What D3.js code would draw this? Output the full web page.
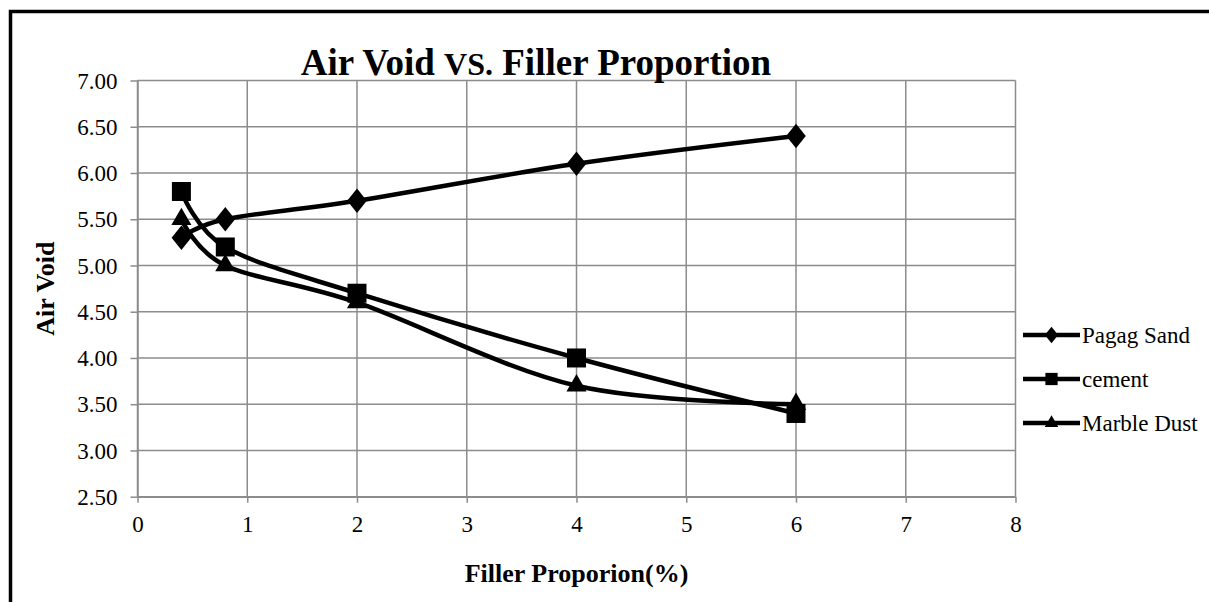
<!DOCTYPE html>
<html>
<head>
<meta charset="utf-8">
<script src="https://cdn.jsdelivr.net/npm/d3@7"></script>
<style>
  html, body { margin: 0; padding: 0; background: #fff; }
  svg { display: block; }
  text { font-family: "Liberation Serif", "Times New Roman", serif; fill: #000; }
</style>
</head>
<body>
<svg id="chart" width="1209" height="602"></svg>
<script>
// Filler proportion (%) on the x axis
const fillerPct = [0.4, 0.8, 2, 4, 6];

// Air void for each filler type
const pagagSand  = [5.3, 5.5, 5.7, 6.1, 6.4];
const cement     = [5.8, 5.2, 4.7, 4.0, 3.4];
const marbleDust = [5.5, 5.0, 4.6, 3.7, 3.5];

const seriesNames = ["Pagag Sand", "cement", "Marble Dust"];
const seriesValues = [pagagSand, cement, marbleDust];

const xTicks = [0, 1, 2, 3, 4, 5, 6, 7, 8];
const yTicks = [2.5, 3.0, 3.5, 4.0, 4.5, 5.0, 5.5, 6.0, 6.5, 7.0];

// Diamond a little wider than d3's built-in one
const wideDiamond = {
  draw(ctx, size) {
    const h = Math.sqrt(size / 1.6);
    const w = h * 0.8;
    ctx.moveTo(0, -h);
    ctx.lineTo(w, 0);
    ctx.lineTo(0, h);
    ctx.lineTo(-w, 0);
    ctx.closePath();
  }
};
const seriesSymbols = [wideDiamond, d3.symbolSquare, d3.symbolTriangle];

const svg = d3.select("#chart");
const plot = { left: 137.5, right: 1015.5, top: 80.5, bottom: 496.7 };

const x = d3.scaleLinear().domain([0, 8]).range([plot.left, plot.right]);
const y = d3.scaleLinear().domain([2.5, 7.0]).range([plot.bottom, plot.top]);

// Outer frame (only the top and left edges fall inside the canvas)
svg.append("rect")
  .attr("x", 10.5).attr("y", 11.5)
  .attr("width", 1300).attr("height", 700)
  .attr("fill", "none").attr("stroke", "#000").attr("stroke-width", 3.5);

const gridColor = "#8c8c8c";

// Gridlines
svg.append("g")
  .selectAll("line")
  .data(xTicks)
  .join("line")
  .attr("x1", d => x(d)).attr("x2", d => x(d))
  .attr("y1", plot.top).attr("y2", plot.bottom)
  .attr("stroke", gridColor).attr("stroke-width", 1.5);

svg.append("g")
  .selectAll("line")
  .data(yTicks)
  .join("line")
  .attr("x1", plot.left).attr("x2", plot.right)
  .attr("y1", d => y(d)).attr("y2", d => y(d))
  .attr("stroke", gridColor).attr("stroke-width", 1.5);

// Axes
const xAxis = svg.append("g")
  .attr("transform", `translate(0,${plot.bottom})`)
  .call(d3.axisBottom(x).tickValues(xTicks).tickFormat(d3.format("d")).tickSize(6).tickSizeOuter(0).tickPadding(13));
const yAxis = svg.append("g")
  .attr("transform", `translate(${plot.left},0)`)
  .call(d3.axisLeft(y).tickValues(yTicks).tickFormat(d3.format(".2f")).tickSize(7).tickSizeOuter(0).tickPadding(13));

[xAxis, yAxis].forEach(g => {
  g.select(".domain").attr("stroke", gridColor).attr("stroke-width", 1.5);
  g.selectAll(".tick line").attr("stroke", gridColor).attr("stroke-width", 1.5);
  g.selectAll(".tick text")
    .style("font-family", "'Liberation Serif', 'Times New Roman', serif")
    .style("font-size", "23px").attr("fill", "#000");
});
yAxis.selectAll(".tick text").attr("dy", "0.33em");

// Smoothed series lines
const line = d3.line()
  .x((d, i) => x(fillerPct[i]))
  .y(d => y(d))
  .curve(d3.curveCardinal.tension(0));

svg.append("g")
  .selectAll("path")
  .data(seriesValues)
  .join("path")
  .attr("d", line)
  .attr("fill", "none")
  .attr("stroke", "#000")
  .attr("stroke-width", 4.5)
  .attr("stroke-linejoin", "round");

// Markers
const markerSizes = [240, 361, 175];
seriesValues.forEach((vals, s) => {
  svg.append("g")
    .selectAll("path")
    .data(vals)
    .join("path")
    .attr("transform", (d, i) => `translate(${x(fillerPct[i])},${y(d)})`)
    .attr("d", d3.symbol().type(seriesSymbols[s]).size(markerSizes[s]))
    .attr("fill", "#000");
});

// Title
const title = svg.append("text")
  .attr("x", 536).attr("y", 75)
  .attr("text-anchor", "middle")
  .style("font-size", "37px").attr("font-weight", "bold");
title.append("tspan").text("Air Void ");
title.append("tspan").style("font-size", "32px").text("VS.");
title.append("tspan").text(" Filler Proportion");

// Axis titles
svg.append("text")
  .attr("x", (plot.left + plot.right) / 2).attr("y", 582)
  .attr("text-anchor", "middle")
  .style("font-size", "26px").attr("font-weight", "bold")
  .text("Filler Proporion(%)");

svg.append("text")
  .attr("transform", `translate(54,${(plot.top + plot.bottom) / 2}) rotate(-90)`)
  .attr("text-anchor", "middle")
  .style("font-size", "26px").attr("font-weight", "bold")
  .text("Air Void");

// Legend
const legendRows = [335, 379, 423];
const legendSizes = [110, 150, 80];
const legend = svg.append("g");
seriesNames.forEach((name, s) => {
  const ly = legendRows[s];
  legend.append("line")
    .attr("x1", 1023).attr("x2", 1080)
    .attr("y1", ly).attr("y2", ly)
    .attr("stroke", "#000").attr("stroke-width", 4.5);
  legend.append("path")
    .attr("transform", `translate(1051.5,${ly})`)
    .attr("d", d3.symbol().type(seriesSymbols[s]).size(legendSizes[s]))
    .attr("fill", "#000");
  legend.append("text")
    .attr("x", 1082).attr("y", ly)
    .attr("dy", "0.33em")
    .style("font-size", "23px")
    .text(name);
});
</script>
</body>
</html>
